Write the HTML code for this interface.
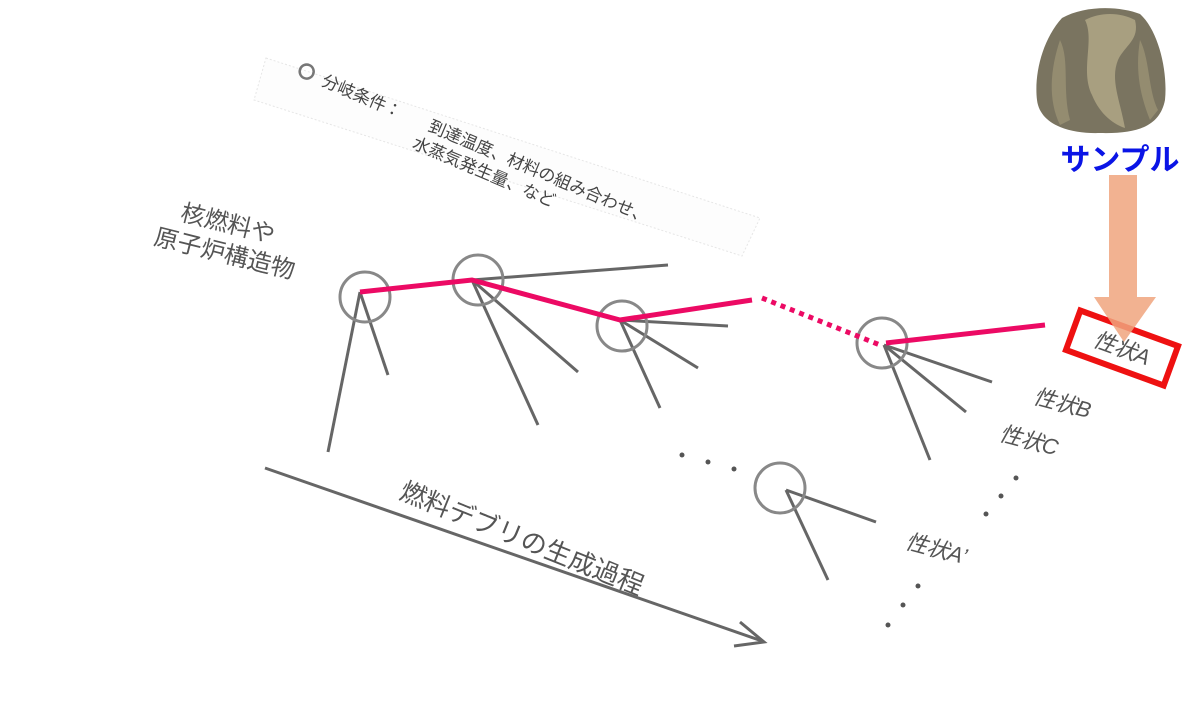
<!DOCTYPE html>
<html><head><meta charset="utf-8"><style>
body{margin:0;background:#fff;}
svg{display:block;font-family:"Liberation Sans","Noto Sans CJK JP",sans-serif;}
</style></head><body>
<svg width="1200" height="714" viewBox="0 0 1200 714" xmlns="http://www.w3.org/2000/svg">
<!-- legend box -->
<polygon points="266,58 760,218 742,256 254,100" fill="#fdfdfd" stroke="#e6e6e6" stroke-dasharray="2 2"/>
<g transform="translate(300,72) rotate(23)" fill="#444" font-size="17">
<circle cx="6" cy="-3" r="7" fill="none" stroke="#777" stroke-width="2.5"/>
<text x="24" y="4">分岐条件：</text>
<text x="140" y="4">到達温度、材料の組み合わせ、</text>
<text x="132" y="26">水蒸気発生量、など</text>
</g>
<!-- left label -->
<g transform="translate(160,215) rotate(14)" fill="#555" font-size="24">
<text x="20" y="0">核燃料や</text>
<text x="0" y="30">原子炉構造物</text>
</g>
<!-- gray branches -->
<g stroke="#666" stroke-width="3" fill="none">
<line x1="360" y1="292" x2="328" y2="452"/>
<line x1="360" y1="292" x2="388" y2="375"/>
<line x1="472" y1="280" x2="668" y2="265"/>
<line x1="472" y1="280" x2="538" y2="425"/>
<line x1="472" y1="280" x2="578" y2="372"/>
<line x1="620" y1="320" x2="728" y2="326"/>
<line x1="620" y1="320" x2="698" y2="368"/>
<line x1="620" y1="320" x2="660" y2="408"/>
<line x1="884" y1="345" x2="992" y2="382"/>
<line x1="884" y1="345" x2="966" y2="412"/>
<line x1="884" y1="345" x2="930" y2="460"/>
<line x1="786" y1="490" x2="876" y2="522"/>
<line x1="786" y1="490" x2="828" y2="580"/>
</g>
<g fill="none" stroke="#888" stroke-width="3">
<circle cx="365" cy="297" r="25"/>
<circle cx="478" cy="280" r="25"/>
<circle cx="622" cy="326" r="25"/>
<circle cx="882" cy="343" r="25"/>
<circle cx="780" cy="488" r="25"/>
</g>
<!-- pink path -->
<g stroke="#ec0a64" stroke-width="5" fill="none">
<polyline points="360,292 472,280 620,320 752,300"/>
<line x1="762" y1="298" x2="880" y2="345" stroke-dasharray="5 5"/>
<line x1="886" y1="343" x2="1045" y2="325"/>
</g>
<!-- dots -->
<g fill="#555">
<circle cx="682" cy="455" r="2.5"/><circle cx="708" cy="462" r="2.5"/><circle cx="734" cy="469" r="2.5"/>
<circle cx="1016" cy="478" r="2.5"/><circle cx="1001" cy="496" r="2.5"/><circle cx="986" cy="514" r="2.5"/>
<circle cx="918" cy="586" r="2.5"/><circle cx="903" cy="605" r="2.5"/><circle cx="888" cy="625" r="2.5"/>
</g>
<!-- process arrow -->
<g stroke="#666" stroke-width="3" fill="none">
<line x1="265" y1="468" x2="762" y2="641"/>
<polyline points="740,622 764,642 734,646"/>
</g>
<text transform="translate(398,498) rotate(22)" fill="#555" font-size="26">燃料デブリの生成過程</text>
<!-- right labels -->
<g fill="#555" font-size="22" font-style="italic">
<text transform="translate(1032,403) rotate(15)">性状B</text>
<text transform="translate(998,440) rotate(15)">性状C</text>
<text transform="translate(904,548) rotate(15)">性状A’</text>
</g>
<g transform="translate(1122,348) rotate(20)">
<rect x="-52" y="-21" width="104" height="42" fill="#fff" stroke="#ee1111" stroke-width="6"/>
<text x="0" y="8" text-anchor="middle" fill="#555" font-size="22" font-style="italic">性状A</text>
</g>
<!-- rock -->
<g>
<path d="M1062,18 C1085,5 1120,6 1140,14 C1158,30 1168,70 1165,100 C1160,125 1140,134 1100,133 C1070,134 1040,125 1037,100 C1034,75 1042,40 1062,18Z" fill="#7a7460"/>
<path d="M1085,20 C1095,40 1080,70 1092,95 C1100,115 1115,125 1125,128 C1120,100 1110,80 1118,60 C1125,45 1140,40 1135,20 C1120,12 1100,12 1085,20Z" fill="#a89f80"/>
<path d="M1060,40 C1070,60 1062,90 1070,120 L1060,125 C1048,100 1050,70 1060,40Z" fill="#948c70"/>
<path d="M1140,40 C1150,60 1148,90 1158,110 L1150,120 C1140,95 1135,70 1140,40Z" fill="#948c70"/>
</g>
<text x="1120" y="170" text-anchor="middle" fill="#0a14e6" font-size="30" font-weight="bold">サンプル</text>
<!-- salmon arrow -->
<polygon points="1109,175 1137,175 1137,297 1156,297 1124,342 1094,297 1109,297" fill="#f0a47e" opacity="0.85"/>
</svg>
</body></html>
